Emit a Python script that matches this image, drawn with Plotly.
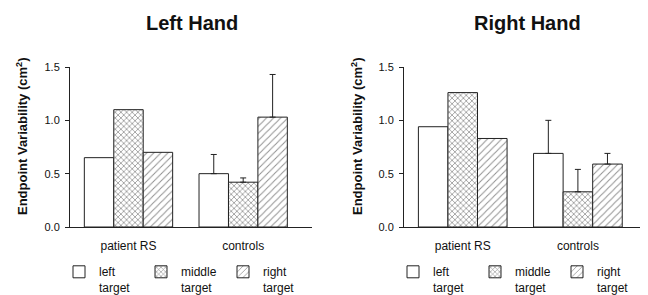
import plotly.graph_objects as go

categories = ["patient RS", "controls"]
series_names = ["left<br>target", "middle<br>target", "right<br>target"]

left_hand_left = [0.65, 0.50]
left_hand_middle = [1.10, 0.42]
left_hand_right = [0.70, 1.03]
left_hand_left_err = [None, 0.18]
left_hand_middle_err = [None, 0.04]
left_hand_right_err = [None, 0.40]

right_hand_left = [0.94, 0.69]
right_hand_middle = [1.26, 0.33]
right_hand_right = [0.83, 0.59]
right_hand_left_err = [None, 0.31]
right_hand_middle_err = [None, 0.21]
right_hand_right_err = [None, 0.10]

y_ticks = [0.0, 0.5, 1.0, 1.5]
panel_titles = ["Left Hand", "Right Hand"]
y_title = "Endpoint Variability (cm<sup>2</sup>)"

FONT = "Liberation Sans, Arial, Helvetica, sans-serif"
W, H, OFF = 640, 287, 8  # page has an 8px body margin


def fx(px):
    return (px - OFF) / W


def fy(py):
    return (H + OFF - py) / H


patterns = [
    dict(shape=""),
    dict(shape="x", size=4, solidity=0.35, fgcolor="#222", bgcolor="white"),
    dict(shape="/", size=5, solidity=0.2, fgcolor="#222", bgcolor="white"),
]

fig = go.Figure()

panels = [
    ("x", "y", "legend",
     [left_hand_left, left_hand_middle, left_hand_right],
     [left_hand_left_err, left_hand_middle_err, left_hand_right_err]),
    ("x2", "y2", "legend2",
     [right_hand_left, right_hand_middle, right_hand_right],
     [right_hand_left_err, right_hand_middle_err, right_hand_right_err]),
]

for xa, ya, lg, vals, errs in panels:
    for i in range(3):
        # missing error -> NaN so no cap is drawn on that bar
        plus = ["NaN" if e is None else e for e in errs[i]]
        minus = ["NaN" if e is None else 0 for e in errs[i]]
        fig.add_trace(go.Bar(
            x=categories, y=vals[i], name=series_names[i],
            xaxis=xa, yaxis=ya, legend=lg,
            marker=dict(color="white", line=dict(color="#222", width=1),
                        pattern=patterns[i]),
            error_y=dict(type="data", array=plus, arrayminus=minus,
                         symmetric=False, color="#222", thickness=1, width=3),
        ))

xdoms = [[fx(70), fx(312)], [fx(404), fx(647)]]
ydom = [fy(227), fy(67)]

axis_common_x = dict(range=[-0.51, 1.6], showline=True, linecolor="#222",
                     linewidth=1, ticks="", showgrid=False, zeroline=False,
                     tickfont=dict(family=FONT, size=12, color="#111"),
                     ticklabelstandoff=8, fixedrange=True)
axis_common_y = dict(range=[0, 1.5], showline=True, linecolor="#222",
                     linewidth=1, ticks="outside", ticklen=4, tickcolor="#222",
                     tickvals=y_ticks, tickformat=".1f", showgrid=False,
                     zeroline=False,
                     tickfont=dict(family=FONT, size=11, color="#111"),
                     ticklabelstandoff=3)

legend_common = dict(orientation="h", y=fy(280), yanchor="middle",
                     xanchor="left", entrywidth=37, entrywidthmode="pixels",
                     valign="top", font=dict(family=FONT, size=12, color="#111"),
                     bgcolor="rgba(0,0,0,0)", tracegroupgap=0)

fig.update_layout(
    width=W, height=H,
    margin=dict(l=0, r=0, t=0, b=0, autoexpand=False),
    paper_bgcolor="white", plot_bgcolor="white",
    barmode="group", bargap=0.23, bargroupgap=0,
    xaxis=dict(domain=xdoms[0], anchor="y", **axis_common_x),
    yaxis=dict(domain=ydom, anchor="x", **axis_common_y),
    xaxis2=dict(domain=xdoms[1], anchor="y2", **axis_common_x),
    yaxis2=dict(domain=ydom, anchor="x2", **axis_common_y),
    legend=dict(x=fx(59), **legend_common),
    legend2=dict(x=fx(393), **legend_common),
    showlegend=True,
)

annotations = []
for t, xp in zip(panel_titles, [192, 527]):
    annotations.append(dict(text="<b>" + t + "</b>", x=fx(xp), y=fy(23),
                            xref="paper", yref="paper", showarrow=False,
                            xanchor="center", yanchor="middle",
                            font=dict(family=FONT, size=20, color="#111")))
for xp in [22, 357]:
    annotations.append(dict(text="<b>" + y_title + "</b>", x=fx(xp),
                            y=fy(137), xref="paper", yref="paper",
                            showarrow=False, textangle=-90,
                            xanchor="center", yanchor="middle",
                            font=dict(family=FONT, size=13, color="#111")))
fig.update_layout(annotations=annotations)

fig.write_html("out.html")
